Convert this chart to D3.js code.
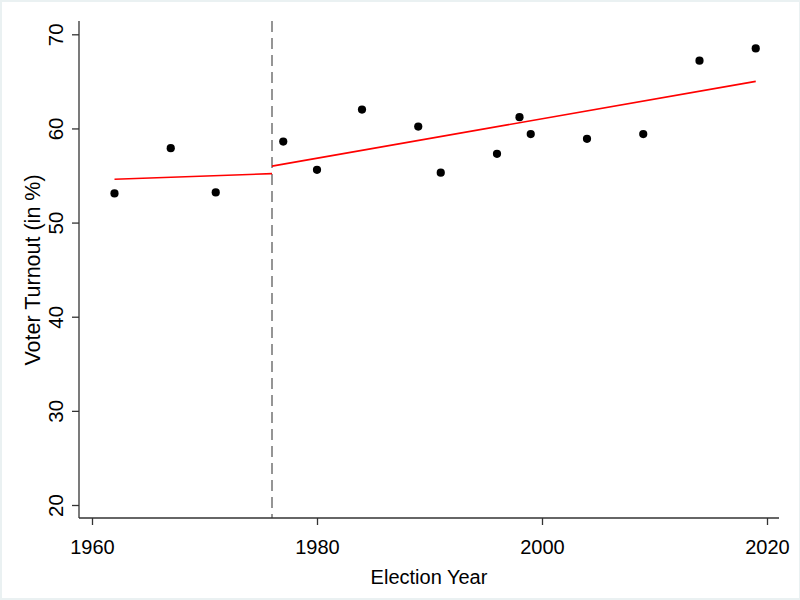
<!DOCTYPE html>
<html><head><meta charset="utf-8">
<script src="https://cdn.jsdelivr.net/npm/d3@7"></script>
<style>body{margin:0;background:#fff} svg{display:block} text{font-family:"Liberation Sans",Arial,Helvetica,sans-serif}</style>
</head><body><svg id="c" width="800" height="600"></svg>
<script>
const years = [1962,1967,1971,1977,1980,1984,1989,1991,1996,1998,1999,2004,2009,2014,2019];
const turnout = [53.1,57.9,53.2,58.6,55.6,62.0,60.2,55.3,57.3,61.2,59.4,58.9,59.4,67.2,68.5];
const fitBeforeYears = [1962,1976];
const fitBeforeValues = [54.6,55.2];
const fitAfterYears = [1976,2019];
const fitAfterValues = [56.0,65.0];
const cutoffYear = 1976;
const xTicks = [1960,1980,2000,2020];
const yTicks = [20,30,40,50,60,70];
const xTitle = "Election Year";
const yTitle = "Voter Turnout (in %)";

(function(){
const svg = d3.select("#c");
svg.append("rect").attr("width",800).attr("height",600).attr("fill","#eaf1f2");
svg.append("rect").attr("x",2).attr("y",2).attr("width",797).attr("height",596).attr("fill","#fff");

const x = d3.scaleLinear().domain([1960,2020]).range([92,767]);
const y = d3.scaleLinear().domain([20,70]).range([505,34.3]);
const pL = 79, pR = 779, pB = 518, pT = 21;

// cutoff dashed line
svg.append("line").attr("x1",x(cutoffYear)).attr("x2",x(cutoffYear))
  .attr("y1",pT).attr("y2",pB)
  .attr("stroke","#8a8a8a").attr("stroke-width",1.8).attr("stroke-dasharray","11,6");

// axes
const xa = svg.append("g").attr("transform",`translate(0,${pB})`)
  .call(d3.axisBottom(x).tickValues(xTicks).tickSize(7).tickPadding(15).tickFormat(d3.format("d")));
xa.select(".domain").remove();
xa.selectAll("line").attr("stroke","#333").attr("stroke-width",1.3);
xa.selectAll("text").attr("font-size",20).attr("fill","#000");

const ya = svg.append("g").attr("transform",`translate(${pL},0)`)
  .call(d3.axisLeft(y).tickValues(yTicks).tickSize(7));
ya.select(".domain").remove();
ya.selectAll("line").attr("stroke","#333").attr("stroke-width",1.3);
ya.selectAll("text").attr("font-size",20.5).attr("fill","#000")
  .attr("x",null).attr("dy",null).attr("text-anchor","middle")
  .attr("transform","translate(-16,0) rotate(-90)");

svg.append("line").attr("x1",pL).attr("x2",pR).attr("y1",pB).attr("y2",pB)
  .attr("stroke","#333").attr("stroke-width",1.3);
svg.append("line").attr("x1",pL).attr("x2",pL).attr("y1",pT).attr("y2",pB)
  .attr("stroke","#333").attr("stroke-width",1.3);

// fit lines
const line = d3.line().x(d=>x(d[0])).y(d=>y(d[1]));
svg.append("path").attr("d",line(d3.zip(fitBeforeYears,fitBeforeValues)))
  .attr("fill","none").attr("stroke","#ff0000").attr("stroke-width",1.6);
svg.append("path").attr("d",line(d3.zip(fitAfterYears,fitAfterValues)))
  .attr("fill","none").attr("stroke","#ff0000").attr("stroke-width",1.6);

// points
svg.append("g").selectAll("circle").data(d3.zip(years,turnout)).join("circle")
  .attr("cx",d=>x(d[0])).attr("cy",d=>y(d[1])).attr("r",4.1).attr("fill","#000");

// titles
svg.append("text").attr("x",(pL+pR)/2).attr("y",584).attr("text-anchor","middle")
  .attr("font-size",20).attr("fill","#000").text(xTitle);
svg.append("text").attr("transform","translate(40,270) rotate(-90)").attr("text-anchor","middle")
  .attr("font-size",21.5).attr("fill","#000").text(yTitle);
})();
</script></body></html>
